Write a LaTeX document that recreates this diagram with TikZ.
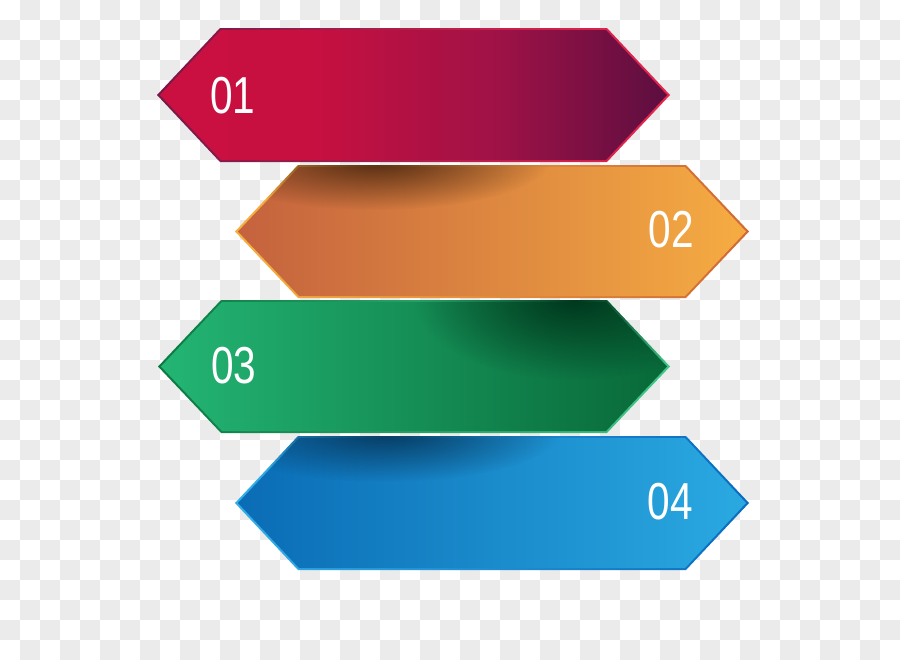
\documentclass[tikz,border=0pt]{standalone}
\usepackage{fontspec}
\newfontfamily\numfont[FakeStretch=0.78]{Liberation Sans}
\usetikzlibrary{fadings}

\definecolor{checkgrey}{RGB}{235, 235, 235}
\definecolor{redL}{RGB}{202, 16, 64}
\definecolor{redM}{RGB}{160, 18, 70}
\definecolor{redR}{RGB}{92, 14, 64}
\definecolor{redbordL}{RGB}{120, 24, 72}
\definecolor{redbordR}{RGB}{232, 37, 77}
\definecolor{orangeL}{RGB}{196, 98, 62}
\definecolor{orangeM}{RGB}{234, 148, 64}
\definecolor{orangeR}{RGB}{246, 172, 66}
\definecolor{orangebordL}{RGB}{245, 176, 64}
\definecolor{orangebordR}{RGB}{208, 106, 53}
\definecolor{orangeshadow}{RGB}{80, 42, 16}
\definecolor{greenL}{RGB}{35, 181, 116}
\definecolor{greenM}{RGB}{28, 166, 102}
\definecolor{greenR}{RGB}{8, 104, 56}
\definecolor{greenbordL}{RGB}{11, 122, 66}
\definecolor{greenbordR}{RGB}{64, 200, 136}
\definecolor{greenshadow}{RGB}{0, 56, 30}
\definecolor{blueL}{RGB}{10, 108, 181}
\definecolor{blueM}{RGB}{27, 149, 213}
\definecolor{blueR}{RGB}{42, 169, 225}
\definecolor{bluebordL}{RGB}{51, 174, 230}
\definecolor{bluebordR}{RGB}{10, 108, 192}
\definecolor{blueshadow}{RGB}{6, 58, 96}

% red band keeps its crimson over the left half
\pgfdeclarehorizontalshading{redband}{100bp}{color(0bp)=(redL); color(25bp)=(redL); color(40bp)=(redL!92!redM); color(58bp)=(redM); color(75bp)=(redR); color(100bp)=(redR)}

\tikzfading[name=softshadow, inner color=transparent!0, outer color=transparent!100]

% hexagon band: left tip, right tip, top, bottom, tip offset
\newcommand{\hexband}[5]{({#1},{(#3+#4)/2}) -- ({#1+#5},{#3}) -- ({#2-#5},{#3}) -- ({#2},{(#3+#4)/2}) -- ({#2-#5},{#4}) -- ({#1+#5},{#4}) -- cycle}

\begin{document}
\begin{tikzpicture}[
      x=0.5pt, y=-0.5pt,
      numlabel/.style={text=white, inner sep=0pt, font=\numfont\fontsize{26}{26}\selectfont}
    ]
      \useasboundingbox (0,0) rectangle (900,660);
      % checkered background
      \fill[white] (0,0) rectangle (900,660);
      \foreach \i in {0,...,44}
        \foreach \j in {0,...,32}{
          \pgfmathtruncatemacro\odd{mod(\i+\j,2)}
          \ifnum\odd=1 \fill[checkgrey] (\i*20,\j*20) rectangle ++(20,20); \fi
        }

      % band 01
      \shade[left color=redbordL, right color=redbordR] \hexband{157}{670}{28}{162}{63};
      \shade[shading=redband] \hexband{160}{667}{30}{160}{61};
      % band 02
      \shade[left color=orangebordL, right color=orangebordR] \hexband{235}{749}{165}{298}{63};
      \shade[left color=orangeL, middle color=orangeM, right color=orangeR] \hexband{238}{746}{167}{296}{61};
      \begin{scope}
        \clip \hexband{235}{749}{165}{298}{63};
        \fill[orangeshadow, path fading=softshadow] (375,160) ellipse (175 and 50);
      \end{scope}
      % band 03
      \shade[left color=greenbordL, right color=greenbordR] \hexband{158}{670}{300}{433}{63};
      \shade[left color=greenL, middle color=greenM, right color=greenR] \hexband{161}{667}{302}{431}{61};
      \begin{scope}
        \clip \hexband{158}{670}{300}{433}{63};
        \fill[greenshadow, path fading=softshadow] (575,300) ellipse (160 and 80);
      \end{scope}
      % band 04
      \shade[left color=bluebordL, right color=bluebordR] \hexband{235}{749}{436}{570}{63};
      \shade[left color=blueL, middle color=blueM, right color=blueR] \hexband{238}{746}{438}{568}{61};
      \begin{scope}
        \clip \hexband{235}{749}{436}{570}{63};
        \fill[blueshadow, path fading=softshadow] (385,432) ellipse (175 and 50);
      \end{scope}

      \node[numlabel] (l1) at (233,96) {01};
      \node[numlabel] (l2) at (671,230) {02};
      \node[numlabel] (l3) at (234,366) {03};
      \node[numlabel] (l4) at (670,502) {04};
    \end{tikzpicture}
\end{document}
